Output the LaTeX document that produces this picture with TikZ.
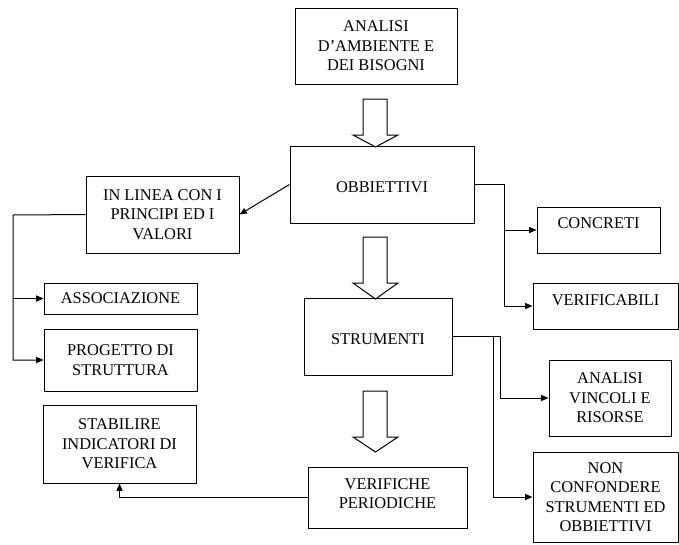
\documentclass[tikz,border=0pt]{standalone}
\usepackage{fontspec}
\setmainfont{Liberation Serif}
\usetikzlibrary{arrows.meta}
\newcommand\bx[6]{\node[box, minimum width={(#4-#2)*0.75pt}, minimum height={(#5-#3)*0.75pt}] (#1) at ({(#2+#4)/2},{(#3+#5)/2}) {#6};}
\newcommand\upby[2]{\raisebox{#1}[\height][\depth]{#2}}
\begin{document}
\begin{tikzpicture}[x=0.75pt,y=-0.75pt,
  box/.style={draw, line width=0.75pt, inner sep=0pt, align=center, font=\fontsize{12.3}{14.6}\selectfont},
  conn/.style={draw, line width=0.75pt},
  tip/.style={-{Triangle[length=5.5pt,width=4.5pt]}},
  blk/.style={draw, line width=0.75pt, fill=white}]
\useasboundingbox (0,0) rectangle (679,544);
% boxes
\bx{amb}{295}{8}{457}{84}{ANALISI\\D'AMBIENTE E\\DEI BISOGNI}
\bx{obb}{290}{146}{474}{223}{\upby{-2pt}{OBBIETTIVI}}
\bx{linea}{86}{176}{239}{253}{IN LINEA CON I\\PRINCIPI ED I\\VALORI}
\bx{assoc}{44}{283}{197}{314}{ASSOCIAZIONE}
\bx{prog}{44}{329}{197}{391}{PROGETTO DI\\STRUTTURA}
\bx{stab}{43}{405}{196}{483}{STABILIRE\\INDICATORI DI\\VERIFICA}
\bx{concreti}{537}{207}{660}{253}{\upby{5pt}{CONCRETI}}
\bx{verif}{533}{283}{678}{329}{\upby{4.5pt}{VERIFICABILI}}
\bx{strum}{304}{298}{452}{375}{\upby{-2pt}{STRUMENTI}}
\bx{anvinc}{549}{360}{671}{436}{ANALISI\\VINCOLI E\\RISORSE}
\bx{non}{533}{452}{678}{542}{NON\\CONFONDERE\\STRUMENTI ED\\OBBIETTIVI}
\bx{verifiche}{308}{467}{467}{528}{\upby{2pt}{\begin{tabular}{@{}c@{}}VERIFICHE\\PERIODICHE\end{tabular}}}
% block arrows
\draw[blk] (363,99) -- (387,99) -- (387,135) -- (398,135) -- (375.5,147) -- (353,135) -- (363,135) -- cycle;
\draw[blk] (363,237) -- (387,237) -- (387,283) -- (398,283) -- (375.5,299) -- (353,283) -- (363,283) -- cycle;
\draw[blk] (363,391) -- (387,391) -- (387,437) -- (398,437) -- (375.5,452) -- (353,437) -- (363,437) -- cycle;
% connectors
\draw[conn,tip] (obb.west) -- (linea.east);
\coordinate (lx) at (13,215);
\draw[conn,tip] (linea.west) -- (lx) |- (prog.west);
\draw[conn,tip] (lx |- assoc.west) -- (assoc.west);
\coordinate (rx) at (504,184.5);
\draw[conn,tip] (obb.east) -- (rx) |- (verif.west);
\draw[conn,tip] (rx |- concreti.west) -- (concreti.west);
\coordinate (sx1) at (500,336.5);
\coordinate (sx2) at (493,336.5);
\draw[conn,tip] (strum.east) -- (sx1) |- (anvinc.west);
\draw[conn,tip] (sx2) |- (non.west);
\draw[conn,tip] (verifiche.west) -| (stab.south);
\end{tikzpicture}
\end{document}
